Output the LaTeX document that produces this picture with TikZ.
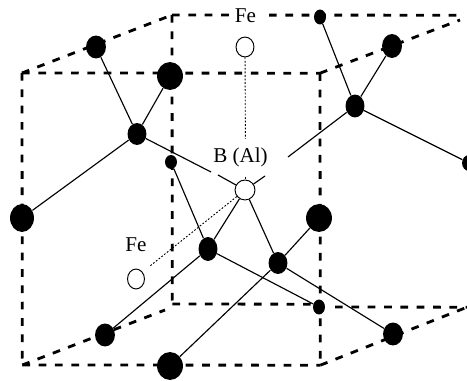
\documentclass[tikz,border=0pt]{standalone}
\usepackage{fontspec}
\setmainfont{Liberation Serif}
\tikzset{
  fullatom/.style={ellipse,fill=black,inner sep=0pt},
  openatom/.style={ellipse,draw=black,fill=white,line width=0.55pt,inner sep=0pt},
  edgeline/.style={line width=1.6pt,dash pattern=on 4.4pt off 4.9pt},
  bondline/.style={line width=0.65pt},
  feline/.style={line width=0.5pt,dash pattern=on 1pt off 1pt},
  lab/.style={inner sep=0pt,font=\fontsize{12}{14}\selectfont}
}
\usetikzlibrary{shapes.geometric}
\begin{document}
\begin{tikzpicture}[x=0.02cm,y=-0.02cm]
  \useasboundingbox (0,0) rectangle (467,381);

  % corners of the cell
  \coordinate (ftl) at (22,73);
  \coordinate (ftr) at (320,73.2);
  \coordinate (fbl) at (22.3,365);
  \coordinate (fbr) at (320.3,365.2);
  \coordinate (btl) at (172,15);
  \coordinate (btr) at (460,15.2);
  \coordinate (bbl) at (172.3,304);
  \coordinate (bbm) at (313,304.2);
  \coordinate (bbn) at (335,307);
  \coordinate (bbr) at (467,307.2);
  \coordinate (gapa) at (233,15.05);
  \coordinate (gapb) at (269,15.1);

  \draw [edgeline] (ftl) -- (ftr);
  \draw [edgeline] (ftl) -- (fbl);
  \draw [edgeline] (ftr) -- (fbr);
  \draw [edgeline] (fbl) -- (fbr);
  \draw [edgeline] (btl) -- (bbl);
  \draw [edgeline] (btl) -- (gapa);
  \draw [edgeline] (gapb) -- (btr);
  \draw [edgeline] (bbl) -- (bbm);
  \draw [edgeline] (bbn) -- (bbr);
  \draw [edgeline] (ftl) -- (btl);
  \draw [edgeline] (ftr) -- (460,20);
  \draw [edgeline] (fbl) -- (165,310);
  \draw [edgeline] (fbr) -- (bbr);

  % atoms
  \node [fullatom,minimum width=20pt*0.567,minimum height=23pt*0.567] (a) at (96,47) {};
  \node [fullatom,minimum width=26pt*0.567,minimum height=28pt*0.567] (b) at (170,76) {};
  \node [fullatom,minimum width=19pt*0.567,minimum height=22pt*0.567] (c) at (137,134) {};
  \node [fullatom,minimum width=12pt*0.567,minimum height=14pt*0.567] (d) at (171,162) {};
  \node [fullatom,minimum width=24pt*0.567,minimum height=28pt*0.567] (e) at (22,218) {};
  \node [openatom,minimum width=18pt*0.567,minimum height=20pt*0.567] (f) at (245,47) {};
  \node [fullatom,minimum width=12pt*0.567,minimum height=15pt*0.567] (g) at (320,17) {};
  \node [fullatom,minimum width=20pt*0.567,minimum height=24pt*0.567] (h) at (392,46) {};
  \node [fullatom,minimum width=19pt*0.567,minimum height=23pt*0.567] (i) at (355,106) {};
  \node [fullatom,minimum width=14pt*0.567,minimum height=16pt*0.567] (j) at (469,163) {};
  \node [openatom,minimum width=20pt*0.567,minimum height=20pt*0.567] (k) at (245,190) {};
  \node [fullatom,minimum width=19pt*0.567,minimum height=24pt*0.567] (l) at (208,249) {};
  \node [openatom,minimum width=17pt*0.567,minimum height=20pt*0.567] (m) at (136,279) {};
  \node [fullatom,minimum width=20pt*0.567,minimum height=23pt*0.567] (n) at (105,335) {};
  \node [fullatom,minimum width=26pt*0.567,minimum height=28pt*0.567] (o) at (170,366) {};
  \node [fullatom,minimum width=26pt*0.567,minimum height=28pt*0.567] (p) at (319,218) {};
  \node [fullatom,minimum width=19pt*0.567,minimum height=22pt*0.567] (q) at (278,263) {};
  \node [fullatom,minimum width=12pt*0.567,minimum height=15pt*0.567] (r) at (319,307) {};
  \node [fullatom,minimum width=20pt*0.567,minimum height=23pt*0.567] (s) at (393,334) {};

  % gaps around the B (Al) label
  \coordinate (ca) at (211,172);
  \coordinate (cb) at (218,175);
  \coordinate (ia) at (288,157);
  \coordinate (ib) at (265,176);
  \coordinate (fa) at (245.4,139);
  \coordinate (fb) at (245,177);
  \coordinate (ma) at (150,266);

  \draw [bondline] (a) -- (c);
  \draw [bondline] (b) -- (c);
  \draw [bondline] (c) -- (e);
  \draw [bondline] (c) -- (ca);
  \draw [bondline] (cb) -- (k);
  \draw [bondline] (i) -- (ia);
  \draw [bondline] (ib) -- (k);
  \draw [bondline] (g) -- (i);
  \draw [bondline] (h) -- (i);
  \draw [bondline] (i) -- (j);
  \draw [bondline] (d) -- (l);
  \draw [bondline] (k) -- (l);
  \draw [bondline] (k) -- (q);
  \draw [bondline] (l) -- (r);
  \draw [bondline] (l) -- (n);
  \draw [bondline] (q) -- (s);
  \draw [bondline] (p) -- (q);
  \draw [bondline] (q) -- (o);
  \draw [feline] (f) -- (fa);
  \draw [feline] (fb) -- (k);
  \draw [feline] (k) -- (ma);

  \node [lab] (fetop) at (245.5,16) {Fe};
  \node [lab] (felow) at (136,245) {Fe};
  \node [lab] (bal) at (240.5,157) {B (Al)};
\end{tikzpicture}
\end{document}
